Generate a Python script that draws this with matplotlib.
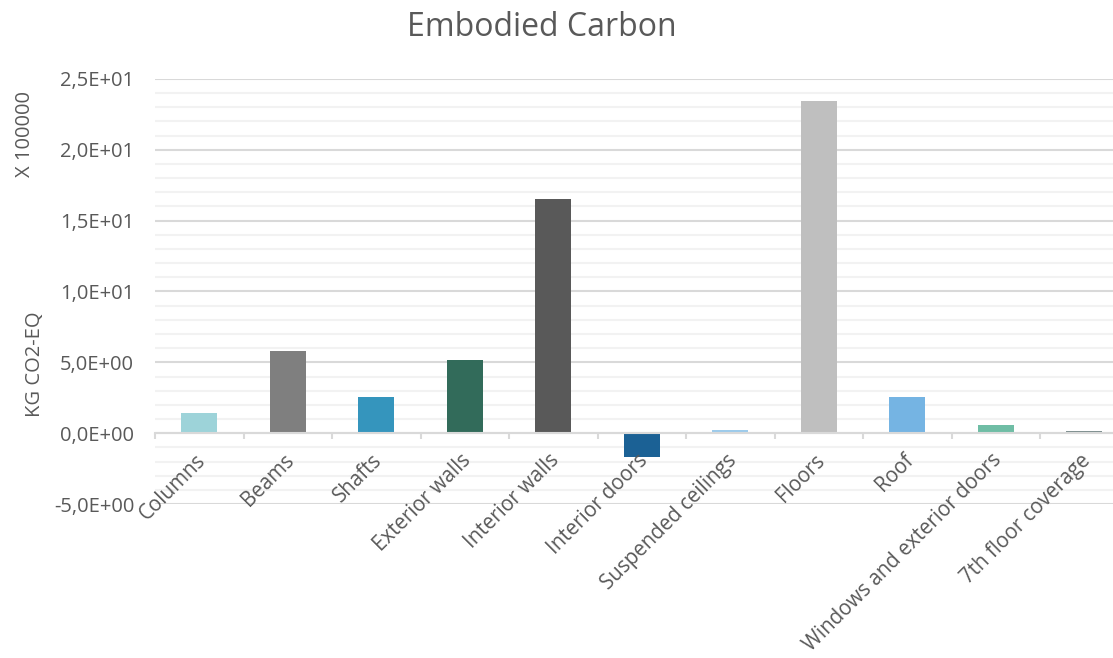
import matplotlib.pyplot as plt
import numpy as np
from matplotlib.ticker import MultipleLocator, FuncFormatter

plt.rcParams['font.family'] = ['Open Sans', 'DejaVu Sans']

# Embodied carbon per building element (x 100000 kg CO2-eq)
elements = ['Columns', 'Beams', 'Shafts', 'Exterior walls', 'Interior walls',
            'Interior doors', 'Suspended ceilings', 'Floors', 'Roof',
            'Windows and exterior doors', '7th floor coverage']
carbon = [1.43, 5.8, 2.55, 5.17, 16.55, -1.65, 0.25, 23.45, 2.58, 0.59, 0.15]
bar_colors = ['#9dd3d9', '#7f7f7f', '#3595bd', '#326b5a', '#595959', '#1b6195',
              '#9dcbeb', '#bfbfbf', '#75b4e3', '#6fbda5', '#7f8f8f']

text_grey = '#595959'

fig = plt.figure(figsize=(11.13, 6.58), dpi=100)
ax = fig.add_axes([0.1393, 0.234, 0.8747, 0.646])

x = np.arange(len(elements))
ax.bar(x, carbon, width=0.41, color=bar_colors, zorder=3)

ax.set_xlim(-0.5, len(elements) - 0.5)
ax.set_ylim(-5, 25)

# gridlines: major every 5, minor every 1
ax.yaxis.set_major_locator(MultipleLocator(5))
ax.yaxis.set_minor_locator(MultipleLocator(1))
ax.yaxis.set_major_formatter(FuncFormatter(lambda v, p: f'{v:.1E}'.replace('.', ',')))
ax.grid(axis='y', which='major', color='#d9d9d9', linewidth=1.5)
ax.grid(axis='y', which='minor', color='#f2f2f2', linewidth=1.5)
ax.tick_params(axis='y', which='both', length=0, pad=15, labelsize=14.5, labelcolor=text_grey)
ax.yaxis.set_zorder(0)

for side in ['left', 'right', 'top']:
    ax.spines[side].set_visible(False)
ax.spines['bottom'].set_position(('data', 0))
ax.spines['bottom'].set_color('#d9d9d9')
ax.spines['bottom'].set_linewidth(1.5)
ax.spines['bottom'].set_zorder(4)

# category separators as ticks, names on minor ticks just left of bar centres
ax.set_xticks(np.arange(-0.5, len(elements)))
ax.set_xticklabels([])
ax.tick_params(axis='x', which='major', direction='out', length=4.5, width=1.5, color='#d9d9d9')
ax.set_xticks(x - 0.05, minor=True)
ax.set_xticklabels(elements, minor=True, rotation=45, ha='right', va='top',
                   rotation_mode='anchor', fontsize=14.8, color=text_grey)
ax.tick_params(axis='x', which='minor', length=0, pad=12)
ax.xaxis.set_zorder(5)

fig.text(0.4865, 0.958, 'Embodied Carbon', ha='center', va='center',
         fontsize=23, color=text_grey)
fig.text(0.0315, 0.447, 'KG CO2-EQ', rotation=90, ha='center', va='center',
         fontsize=14.5, color=text_grey)
fig.text(0.0225, 0.797, 'X 100000', rotation=90, ha='center', va='center',
         fontsize=14.5, color=text_grey)

fig.savefig('out.png', dpi=100)
